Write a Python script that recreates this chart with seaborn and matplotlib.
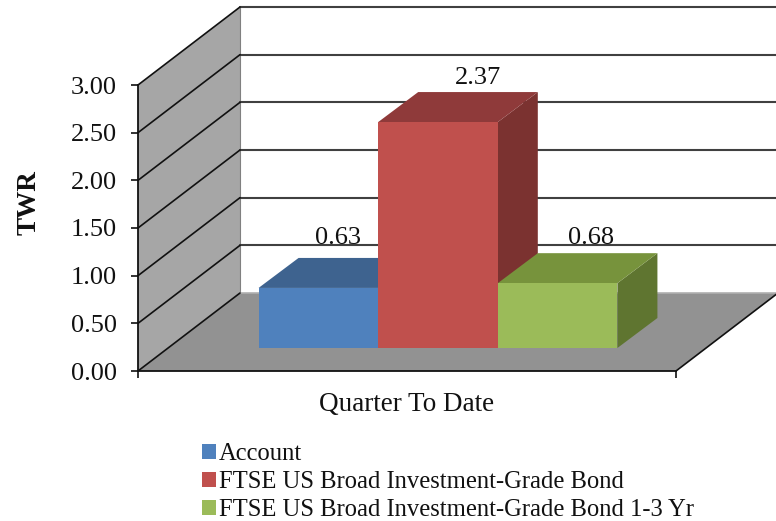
import pandas as pd
import matplotlib.pyplot as plt
import seaborn as sns
from matplotlib.patches import Polygon

period = "Quarter To Date"
series = ["Account", "FTSE US Broad Investment-Grade Bond", "FTSE US Broad Investment-Grade Bond 1-3 Yr"]
twr = [0.63, 2.37, 0.68]
y_ticks = [0.0, 0.5, 1.0, 1.5, 2.0, 2.5, 3.0]

front_colors = ["#4F81BD", "#C0504D", "#9BBB59"]
top_colors = ["#3E638F", "#8F3A3A", "#77933C"]
side_colors = ["#335278", "#7B3230", "#5F7530"]

W, H = 776, 521
sns.set_theme(style="white")
plt.rcParams['font.family'] = ['Liberation Serif', 'DejaVu Serif']


def px_box(left, right, bottom, top):
    # pixel box (y measured from the top of the image) to figure fractions
    return [left / W, 1 - bottom / H, (right - left) / W, (bottom - top) / H]


fig = plt.figure(figsize=(W / 100, H / 100), dpi=100)
ax = fig.add_axes(px_box(138, 676, 371, 85))
ax.set_xlim(0, 1)
ax.set_ylim(0, 3)
ax.patch.set_visible(False)

# depth of the box in data units of the front plane
dx = 102 / 538
dy = 78 / (286 / 3)

floor = [(0, 0), (1, 0), (1 + dx, dy), (dx, dy)]
wall = [(0, 0), (dx, dy), (dx, 3 + dy), (0, 3)]
ax.add_patch(Polygon(floor, facecolor="#929292", edgecolor="none", clip_on=False, zorder=1))
ax.add_patch(Polygon(wall, facecolor="#A6A6A6", edgecolor="none", clip_on=False, zorder=1))
ax.plot([dx, dx], [dy, 3 + dy], color="#808080", lw=0.8, clip_on=False, zorder=2)
ax.plot([dx, 1 + dx], [dy, dy], color="#B0B0B0", lw=1.2, clip_on=False, zorder=2)
ax.plot([1, 1 + dx], [0, dy], color="#111111", lw=1.2, clip_on=False, zorder=3)

for t in y_ticks:
    ax.plot([0, dx], [t, t + dy], color="#111111", lw=1.2, clip_on=False, zorder=3)
    if t > 0:
        ax.plot([dx, 1 + dx], [t + dy, t + dy], color="#404040", lw=1.5, clip_on=False, zorder=2)

ax.set_yticks(y_ticks)
ax.set_yticklabels([f"{t:.2f}" for t in y_ticks])
ax.set_xticks([0, 1])
ax.set_xticklabels([])
ax.tick_params(axis="y", left=True, length=5, width=1.2, color="#111111", pad=10, labelcolor="#111111", labelsize=19)
ax.tick_params(axis="x", bottom=True, length=5, width=1.2, color="#111111")
ax.set_xlabel(period, labelpad=6.5, color="#111111", fontsize=19.5)
ax.set_ylabel("TWR", fontweight="bold", color="#111111", fontsize=19.5)
ax.yaxis.set_label_coords((42 - 138) / 538, (371 - 203) / 286)
sns.despine(ax=ax)
for s in ["left", "bottom"]:
    ax.spines[s].set_color("#111111")
    ax.spines[s].set_linewidth(1.3)
    ax.spines[s].set_zorder(4)

# bars stand on the floor, so they get their own axes shifted back into the box
bar_ax = fig.add_axes(px_box(138 + 31, 676 + 31, 348, 348 - 286))
bar_ax.patch.set_visible(False)
df = pd.DataFrame({"period": [period] * 3, "series": series, "twr": twr})
sns.barplot(data=df, x="period", y="twr", hue="series", hue_order=series, palette=front_colors,
            saturation=1, width=0.667, gap=0, linewidth=0, ax=bar_ax)
bar_ax.set_xlim(-0.5, 0.5)
bar_ax.set_ylim(0, 3)
handles, labels = bar_ax.get_legend_handles_labels()
bar_ax.get_legend().remove()
bar_ax.axis("off")

bar_dx = 40 / 538
bar_dy = 30 / (286 / 3)
label_offsets = [(20, 14), (40, 8), (33, 9)]
bars = [p for p in bar_ax.patches if p.get_height() > 0]
for i, p in enumerate(bars):
    x0, x1, h = p.get_x(), p.get_x() + p.get_width(), p.get_height()
    top = [(x0, h), (x1, h), (x1 + bar_dx, h + bar_dy), (x0 + bar_dx, h + bar_dy)]
    side = [(x1, 0), (x1 + bar_dx, bar_dy), (x1 + bar_dx, h + bar_dy), (x1, h)]
    bar_ax.add_patch(Polygon(side, facecolor=side_colors[i], edgecolor="none", clip_on=False, zorder=0.1 + i * 0.1))
    bar_ax.add_patch(Polygon(top, facecolor=top_colors[i], edgecolor="none", clip_on=False, zorder=0.1 + i * 0.1))
    p.set_zorder(1)
    off = label_offsets[i]
    bar_ax.annotate(f"{twr[i]:.2f}", ((x0 + x1) / 2, h + bar_dy), xytext=(off[0] * 0.72, off[1] * 0.72),
                    textcoords="offset points", ha="center", va="baseline", color="#111111", annotation_clip=False,
                    fontsize=19)

fig.legend(handles, labels, loc="upper left", bbox_to_anchor=(202 / W, 1 - 443 / H), frameon=False,
           ncol=1, handlelength=0.57, handleheight=0.57, handletextpad=0.12, labelspacing=0.24,
           borderpad=0, borderaxespad=0, labelcolor="#111111", fontsize=17.7)

fig.savefig("out.png", dpi=100)
